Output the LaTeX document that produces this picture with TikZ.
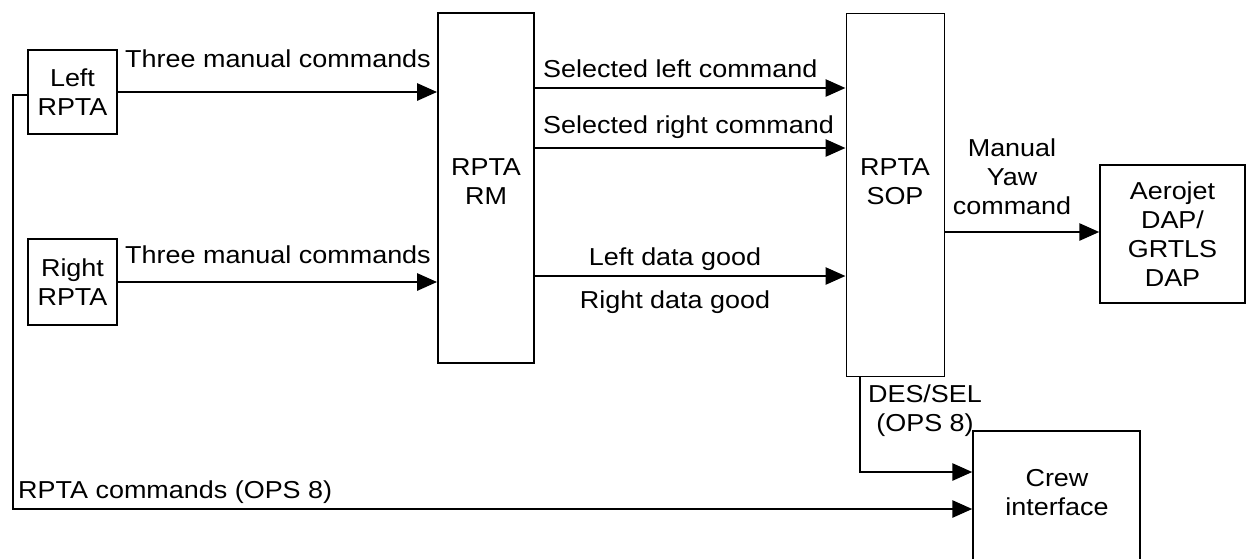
\documentclass[tikz,border=0pt]{standalone}
\usepackage{fontspec}
\setmainfont{Liberation Sans}[FakeStretch=1.1]
\usetikzlibrary{arrows.meta,calc}
\begin{document}
\begin{tikzpicture}[x=1pt,y=-1pt,
  every node/.style={font=\fontsize{24.5}{29}\selectfont},
  box/.style={draw,line width=1.4pt,inner sep=0pt,align=center},
  lbl/.style={inner sep=0pt,align=center},
  arr/.style={line width=2.8pt,-{Triangle[length=20pt,width=17pt]}},
  ln/.style={line width=2.8pt}]
\useasboundingbox (0,0) rectangle (1248,558);
\clip (0,0) rectangle (1248,558);
% boxes
\node[box,minimum width=89pt,minimum height=84pt] (L) at (72.5,92) {Left\\RPTA};
\node[box,minimum width=89pt,minimum height=86pt] (R) at (72.5,282) {Right\\RPTA};
\node[box,line width=1.8pt,minimum width=96pt,minimum height=350pt] (RM) at (486,188) {};
\node[lbl,anchor=base] (RMt) at (486,204) {RPTA\\RM};
\node[box,line width=1pt,minimum width=98pt,minimum height=363pt] (SOP) at (895,194.5) {};
\node[lbl,anchor=base] (SOPt) at (895,204) {RPTA\\SOP};
\node[box,minimum width=145pt,minimum height=138pt] (AJ) at (1172.5,234) {Aerojet\\DAP/\\GRTLS\\DAP};
\node[box,minimum width=167pt,minimum height=170pt] (CR) at (1056.5,516) {};
\node[lbl,anchor=base] (CRt) at (1057,515) {Crew\\interface};
% arrows
\draw[arr] (L.east) -- (L.east -| RM.west);
\draw[arr] (R.east) -- (R.east -| RM.west);
\draw[arr] (RM.east |- 0,88) -- (SOP.west |- 0,88);
\draw[arr] (RM.east |- 0,148) -- (SOP.west |- 0,148);
\draw[arr] (RM.east |- 0,276) -- (SOP.west |- 0,276);
\draw[arr] (SOP.east |- 0,232) -- (AJ.west |- 0,232);
\draw[arr] (SOP.south -| 860,0) |- (CR.west |- 0,472);
\coordinate (fb) at (13,509);
\draw[arr] (L.west |- 0,95) -| (fb) -- (CR.west |- fb);
% labels
\node[lbl,anchor=base west] (t1) at (125,67) {Three manual commands};
\node[lbl,anchor=base west] (t2) at (125,263) {Three manual commands};
\node[lbl,anchor=base west] (t3) at (543,77) {Selected left command};
\node[lbl,anchor=base west] (t4) at (543,133) {Selected right command};
\node[lbl,anchor=base] (t5) at (675,265) {Left data good};
\node[lbl,anchor=base] (t6) at (675,308) {Right data good};
\node[lbl,anchor=base] (t7) at (1012,214) {Manual\\Yaw\\command};
\node[lbl,anchor=base] (t8) at (925,431) {DES/SEL\\(OPS 8)};
\node[lbl,anchor=base west] (t9) at (18,498) {RPTA commands (OPS 8)};
\end{tikzpicture}
\end{document}
